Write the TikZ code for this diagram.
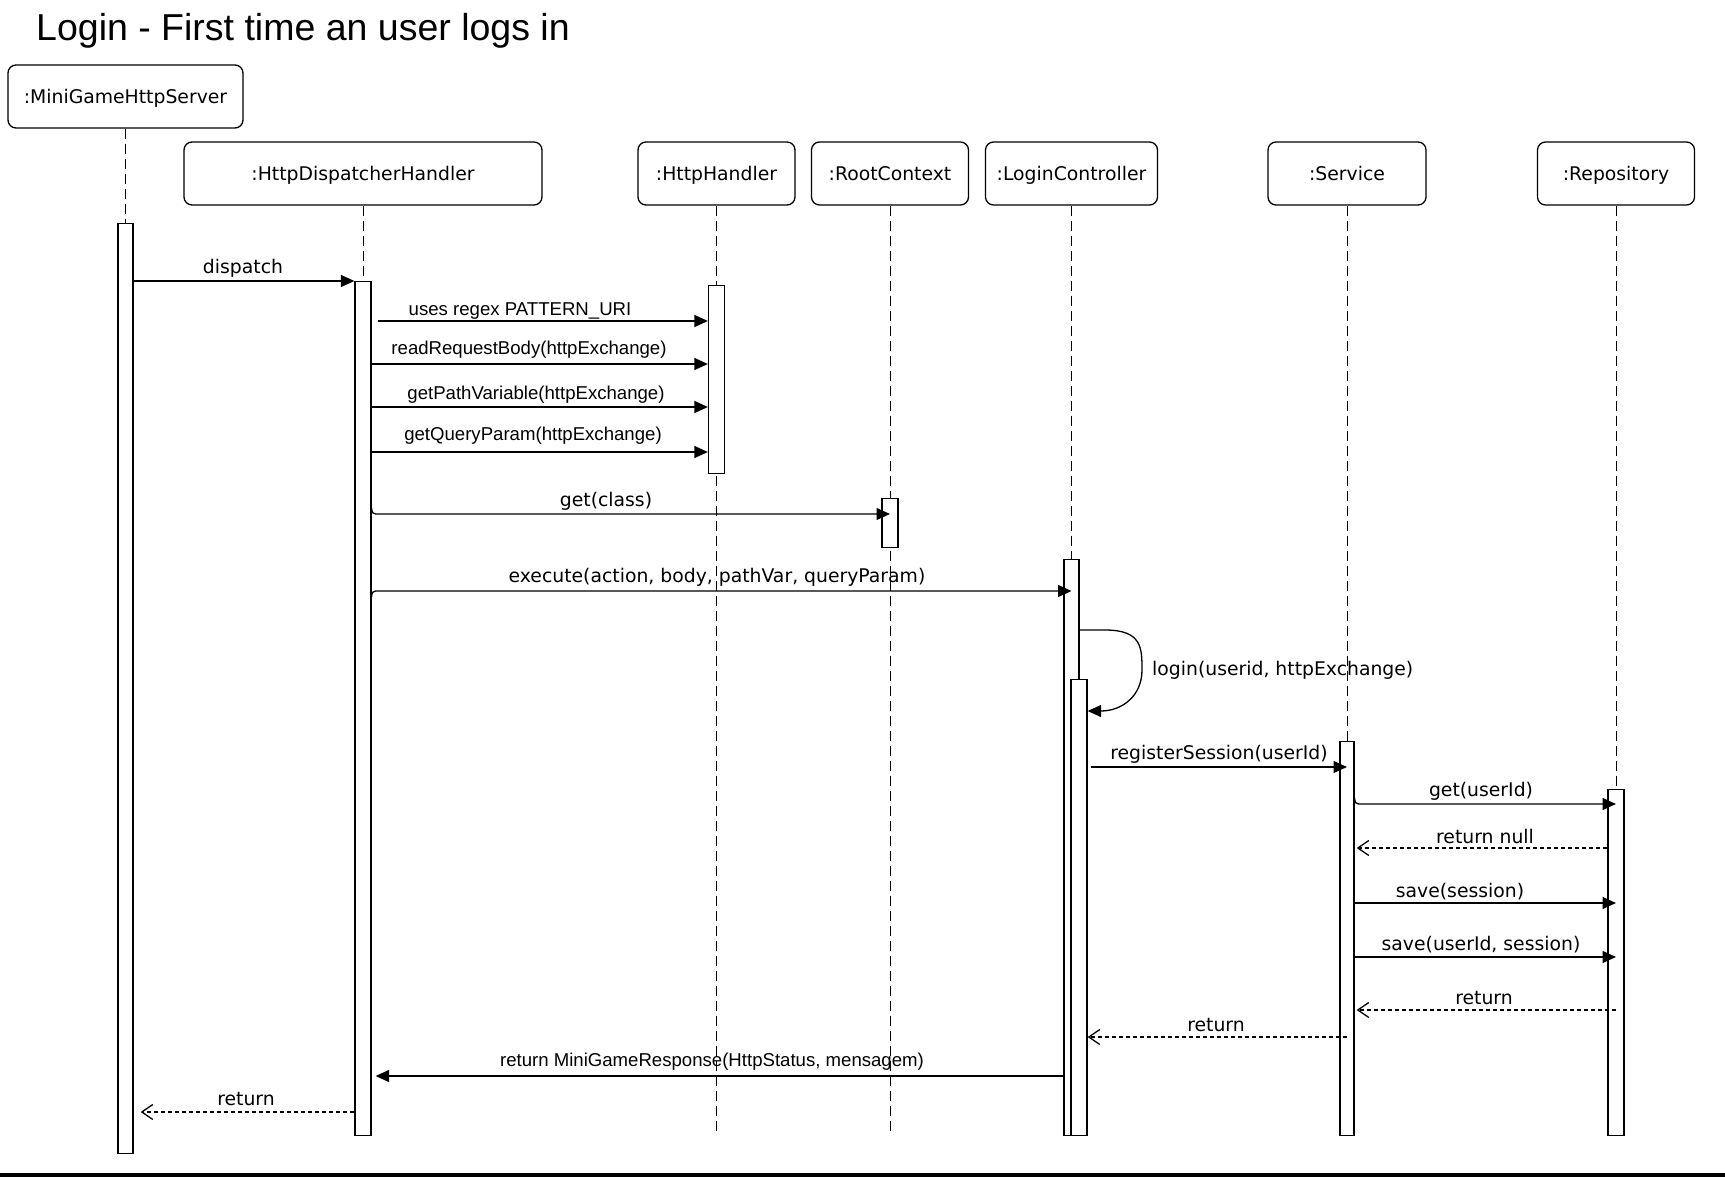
\documentclass[tikz,border=0pt]{standalone}
\usepackage{fontspec}
\setmainfont{DejaVu Sans}
\newfontfamily\helv{Liberation Sans}
\usetikzlibrary{arrows.meta}
\tikzset{
  part/.style={draw, rounded corners=8pt, line width=1.3pt, fill=white, font=\fontsize{18.8}{22}\selectfont, inner sep=0pt, minimum height=63pt, text height=18.2pt, text depth=4.4pt},
  actbar/.style={draw, line width=1.3pt, fill=white, inner sep=0pt, anchor=north},
  lifeline/.style={line width=1pt, dash pattern=on 10pt off 5pt},
  call/.style={line width=1.3pt, -{Triangle[length=13.5pt,width=12pt]}},
  ret/.style={line width=1.3pt, dash pattern=on 4pt off 3pt, -{Straight Barb[length=11pt,width=15pt,line width=1.3pt]}},
  lbl/.style={font=\fontsize{18.8}{22}\selectfont, inner sep=0pt, yshift=-2.2pt},
  hlbl/.style={font=\helv\fontsize{18.6}{22}\selectfont, inner sep=0pt, yshift=-2.2pt},
}
\begin{document}
\begin{tikzpicture}[x=1pt,y=-1pt]
\useasboundingbox (0,0) rectangle (1725,1177);
\fill[white] (0,0) rectangle (1725,1177);
% title
\node[font=\helv\fontsize{37.5}{42}\selectfont, inner sep=0pt] (title) at (303,31) {Login - First time an user logs in};
% participants
\node[part, minimum width=235pt] (srv) at (125.5,96.5) {:MiniGameHttpServer};
\node[part, minimum width=358pt] (hd) at (363,173.5) {:HttpDispatcherHandler};
\node[part, minimum width=157pt] (hh) at (716.5,173.5) {:HttpHandler};
\node[part, minimum width=157pt] (rc) at (890,173.5) {:RootContext};
\node[part, minimum width=172pt] (lc) at (1071.5,173.5) {:LoginController};
\node[part, minimum width=158pt] (sv) at (1347,173.5) {:Service};
\node[part, minimum width=157pt] (rp) at (1616,173.5) {:Repository};
% lifelines
\foreach \p in {srv,hd,hh,rc,lc,sv,rp}{
  \draw[lifeline] (\p.south) -- (\p.south |- 0,1135);
}
% activation bars
\node[actbar, minimum width=15pt, minimum height=930pt] (srvA) at (125.5,223) {};
\node[actbar, minimum width=16pt, minimum height=854pt] (hdA) at (363,281) {};
\node[actbar, minimum width=16pt, minimum height=188pt] (hhA) at (716.5,285) {};
\node[actbar, minimum width=16pt, minimum height=49pt] (rcA) at (890,498) {};
\node[actbar, minimum width=15pt, minimum height=576pt] (lcA) at (1071.5,559) {};
\node[actbar, minimum width=16pt, minimum height=456pt] (lcB) at (1079,679) {};
\node[actbar, minimum width=14pt, minimum height=394pt] (svA) at (1347,741) {};
\node[actbar, minimum width=16pt, minimum height=346pt] (rpA) at (1616,789) {};
% helper coordinates
\coordinate (hdR) at ([xshift=6pt]hdA.east);
\coordinate (hdR2) at ([xshift=4pt]hdA.east);
\coordinate (lcR) at ([xshift=3pt]lcB.east);
\coordinate (svR) at ([xshift=2pt]svA.east);
\coordinate (srvR) at ([xshift=7pt]srvA.east);
% messages
\draw[call] (srvA.east |- 0,281) -- (hdA.west |- 0,281);
\draw[call] (hdR |- 0,321) -- (hhA.west |- 0,321);
\draw[call] (hdA.east |- 0,364) -- (hhA.west |- 0,364);
\draw[call] (hdA.east |- 0,407) -- (hhA.west |- 0,407);
\draw[call] (hdA.east |- 0,452) -- (hhA.west |- 0,452);
\draw[call, rounded corners=4pt] (hdA.east |- 0,508) -- (hdA.east |- 0,514) -- (rcA.center |- 0,514);
\draw[call, rounded corners=4pt] (hdA.east |- 0,597) -- (hdA.east |- 0,591) -- (lcA.center |- 0,591);
\draw[call] (lcA.east |- 0,630) -- (1105,630) .. controls (1142,630) and (1142,648) .. (1142,670) .. controls (1142,696) and (1122,711) .. (lcB.east |- 0,711);
\draw[call] (lcR |- 0,767) -- (svA.center |- 0,767);
\draw[call, rounded corners=4pt] (svA.east |- 0,798) -- (svA.east |- 0,804) -- (rpA.center |- 0,804);
\draw[ret] (rpA.west |- 0,848) -- (svR |- 0,848);
\draw[call] (svA.east |- 0,903) -- (rpA.center |- 0,903);
\draw[call] (svA.east |- 0,957) -- (rpA.center |- 0,957);
\draw[ret] (rpA.center |- 0,1010) -- (svR |- 0,1010);
\draw[ret] (svA.center |- 0,1037) -- (lcB.east |- 0,1037);
\draw[call] (lcA.west |- 0,1076) -- (hdR2 |- 0,1076);
\draw[ret] (hdA.west |- 0,1112) -- (srvR |- 0,1112);
% labels
\node[lbl] (l1) at (243,266) {dispatch};
\node[hlbl] (l2) at (520,309) {uses regex PATTERN\_URI};
\node[hlbl] (l3) at (529,347) {readRequestBody(httpExchange)};
\node[hlbl] (l4) at (536,392) {getPathVariable(httpExchange)};
\node[hlbl] (l5) at (533,433) {getQueryParam(httpExchange)};
\node[lbl] (l6) at (606,499) {get(class)};
\node[lbl] (l7) at (717,575) {execute(action, body, pathVar, queryParam)};
\node[lbl, anchor=west] (l8) at (1152,668) {login(userid, httpExchange)};
\node[lbl] (l9) at (1219,752) {registerSession(userId)};
\node[lbl] (l10) at (1481,789) {get(userId)};
\node[lbl] (l11) at (1485,834) {return null};
\node[lbl] (l12) at (1460,889) {save(session)};
\node[lbl] (l13) at (1481,942) {save(userId, session)};
\node[lbl] (l14) at (1484,996) {return};
\node[lbl] (l15) at (1216,1023) {return};
\node[hlbl] (l16) at (712,1059) {return MiniGameResponse(HttpStatus, mensagem)};
\node[lbl] (l17) at (246,1097) {return};
% bottom rule
\fill[black] (0,1173) rectangle (1725,1177);
\end{tikzpicture}
\end{document}
